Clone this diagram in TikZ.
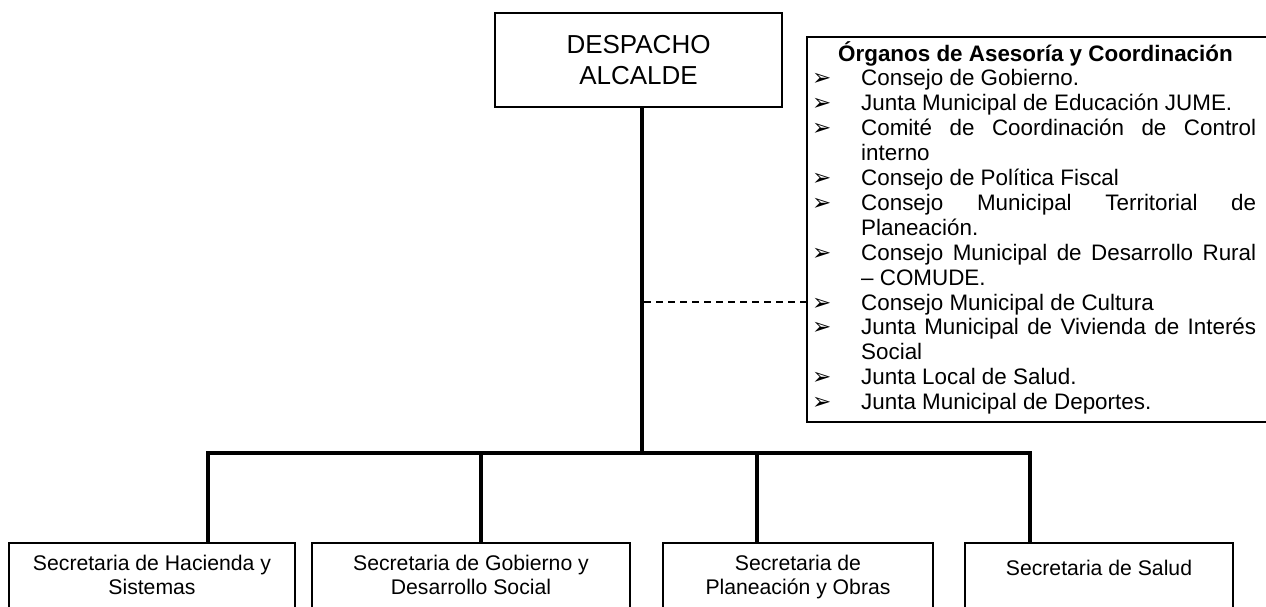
\documentclass[tikz,border=0pt]{standalone}
\usepackage{fontspec}
\setmainfont{Liberation Sans}
\newfontfamily\dejavu{DejaVu Sans}
\newcommand\orgbul{{\dejavu\fontsize{23}{23}\selectfont ➢}}
\newcommand\orgitem[1]{\par\hangindent=49pt\hangafter=1\noindent\makebox[49pt][l]{\orgbul}#1\par}
\newcommand\sectext[2]{\parbox[t][60pt][t]{#1}{\centering\strut #2}}
\tikzset{
  boxline/.style={draw, line width=1.8pt, outer sep=0pt},
  headbox/.style={boxline, minimum width=287pt, minimum height=94pt, inner sep=0pt,
    align=center, font=\fontsize{26}{31}\selectfont},
  secbox/.style={boxline, anchor=north, inner xsep=0pt, inner ysep=11pt,
    font=\fontsize{21.2}{24}\selectfont},
  orgframe/.style={boxline, inner sep=0pt, minimum width=480pt, minimum height=385pt,
    anchor=north west},
  orgtext/.style={inner sep=0pt, text width=444pt, align=justify, anchor=base west,
    font=\fontsize{22.4}{24.9}\selectfont},
  trunk/.style={line width=3.2pt},
  dashline/.style={line width=1.3pt, dash pattern=on 6.5pt off 5.5pt},
}
\begin{document}
\begin{tikzpicture}[x=1pt, y=-1pt]
\useasboundingbox (0,0) rectangle (1266,606);
\fill[white] (0,0) rectangle (1266,606);
\clip (0,0) rectangle (1266,606);

% top box
\node[headbox] (head) at (638.5,60) {DESPACHO\\ALCALDE};

% advisory box
\node[orgframe] (org) at (807,37) {};
\node[orgtext] (orgt) at (812,61) {%
  \tolerance=10000 \hyphenpenalty=10000 \pretolerance=-1
  \noindent\hspace*{26pt}\textbf{Órganos de Asesoría y Coordinación}\par
  \orgitem{Consejo de Gobierno.}
  \orgitem{Junta Municipal de Educación JUME.}
  \orgitem{Comité de Coordinación de Control\linebreak interno}
  \orgitem{Consejo de Política Fiscal}
  \orgitem{Consejo Municipal Territorial de\linebreak Planeación.}
  \orgitem{Consejo Municipal de Desarrollo Rural\linebreak – COMUDE.}
  \orgitem{Consejo Municipal de Cultura}
  \orgitem{Junta Municipal de Vivienda de Interés\linebreak Social}
  \orgitem{Junta Local de Salud.}
  \orgitem{Junta Municipal de Deportes.}
};

% bottom boxes
\node[secbox] (b1) at (152,543) {\sectext{286pt}{Secretaria de Hacienda y\\Sistemas}};
\node[secbox] (b2) at (471,543) {\sectext{318pt}{Secretaria de Gobierno y\\Desarrollo Social}};
\node[secbox] (b3) at (798,543) {\sectext{270pt}{Secretaria de\\Planeación y Obras}};
\node[secbox] (b4) at (1099,543) {\sectext{268pt}{\raisebox{-5pt}{Secretaria de Salud}}};

% junctions
\coordinate (j0) at (642,453);
\coordinate (c1) at (208,453);
\coordinate (c2) at (481,453);
\coordinate (c3) at (757,453);
\coordinate (c4) at (1030,453);
\coordinate (dash0) at (644,302);

% connectors
\draw[trunk] (head.south -| j0) -- (j0);
\draw[trunk] (b1.north -| c1) -- (c1) -- (c4) -- (b4.north -| c4);
\draw[trunk] (c2) -- (b2.north -| c2);
\draw[trunk] (c3) -- (b3.north -| c3);
\draw[dashline] (dash0) -- (dash0 -| org.west);
\end{tikzpicture}
\end{document}
